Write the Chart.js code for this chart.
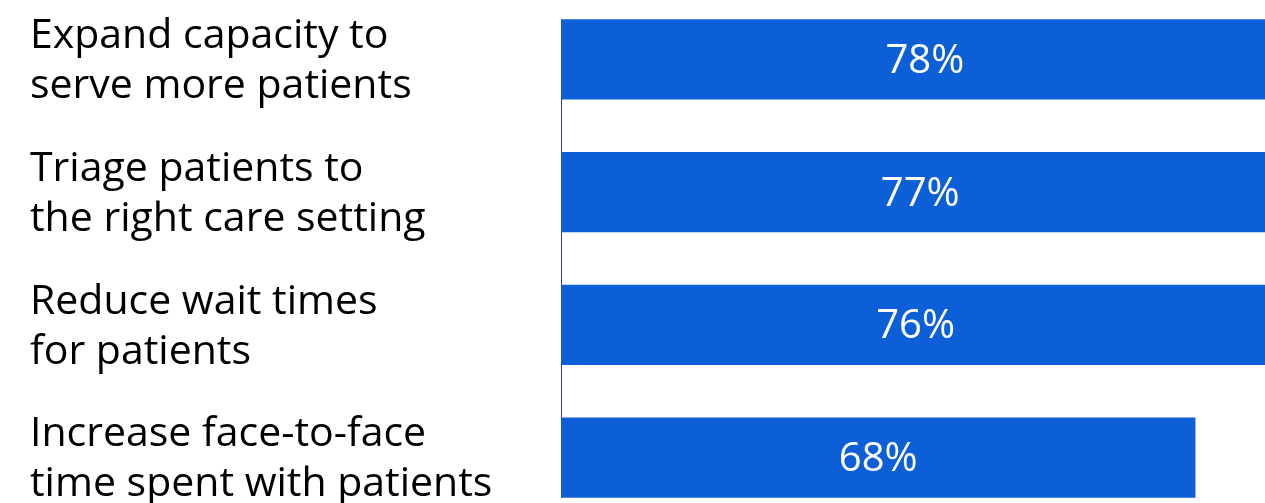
<!DOCTYPE html>
<html>
<head>
<meta charset="utf-8">
<script src="https://cdn.jsdelivr.net/npm/chart.js@4"></script>
<style>
  html, body { margin: 0; padding: 0; background: #fff; overflow: hidden; }
  #wrap { position: absolute; left: 0; top: -7px; width: 1494px; height: 531px; }
</style>
</head>
<body>
<div id="wrap"><canvas id="myChart"></canvas></div>
<script>
const categories = [
  ["Expand capacity to", "serve more patients"],
  ["Triage patients to", "the right care setting"],
  ["Reduce wait times", "for patients"],
  ["Increase face-to-face", "time spent with patients"],
];
const values = [78, 77, 76, 68];

// thin axis line that only runs from the first bar to the last one
const axisLine = {
  id: "axisLine",
  beforeDatasetsDraw(chart) {
    const ctx = chart.ctx;
    const bars = chart.getDatasetMeta(0).data;
    const first = bars[0];
    const last = bars[bars.length - 1];
    const x = chart.chartArea.left + 0.5;
    ctx.save();
    ctx.strokeStyle = "#3b3b8c";
    ctx.lineWidth = 1;
    ctx.beginPath();
    ctx.moveTo(x, first.y - first.height / 2);
    ctx.lineTo(x, last.y + last.height / 2);
    ctx.stroke();
    ctx.restore();
  },
};

// white % labels in the middle of each bar
const barLabels = {
  id: "barLabels",
  afterDatasetsDraw(chart) {
    const ctx = chart.ctx;
    const meta = chart.getDatasetMeta(0);
    ctx.save();
    ctx.fillStyle = "#ffffff";
    ctx.font = "40px 'Open Sans'";
    ctx.textAlign = "center";
    ctx.textBaseline = "middle";
    meta.data.forEach((bar, i) => {
      const cx = (bar.x + bar.base) / 2;
      ctx.fillText(values[i] + "%", cx, bar.y + 2);
    });
    ctx.restore();
  },
};

const config = {
  type: "bar",
  data: {
    labels: categories,
    datasets: [
      {
        data: values,
        backgroundColor: "#0c5fd6",
        borderWidth: 0,
        categoryPercentage: 1,
        barPercentage: 0.603,
      },
    ],
  },
  options: {
    indexAxis: "y",
    responsive: true,
    maintainAspectRatio: false,
    animation: false,
    layout: { padding: { left: 30, right: 0, top: 0, bottom: 0 } },
    plugins: {
      legend: { display: false },
      tooltip: { enabled: false },
    },
    scales: {
      x: {
        display: false,
        min: 0,
        max: 100,
      },
      y: {
        afterFit: (scale) => {
          scale.width = 531;
          scale.paddingTop = 0;
          scale.paddingBottom = 0;
        },
        grid: { display: false },
        border: { display: false },
        ticks: {
          crossAlign: "far",
          labelOffset: 2,
          color: "#000000",
          font: { family: "'Open Sans'", size: 41, lineHeight: 1.22 },
        },
      },
    },
  },
  plugins: [axisLine, barLabels],
};

var myChart = new Chart(document.getElementById("myChart"), config);
</script>
</body>
</html>
